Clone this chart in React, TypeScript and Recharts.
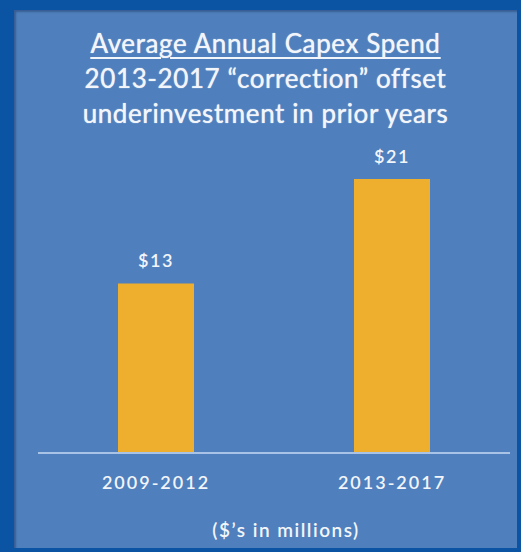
import { BarChart, Bar, XAxis, YAxis, LabelList } from "recharts";

const periods = ["2009-2012", "2013-2017"];
const capexSpend = [13, 21];

const chartData = periods.map((period, i) => ({
  period,
  spend: capexSpend[i],
}));

const TEXT = "#f2f5fa";
const FONT = "Lato, 'Open Sans', sans-serif";

export default function App() {
  return (
    <div
      style={{
        position: "fixed",
        left: 0,
        top: 0,
        width: 521,
        height: 552,
        background: "#0b54a4",
        fontFamily: FONT,
      }}
    >
      <div
        style={{
          position: "absolute",
          left: 14,
          top: 10,
          width: 503,
          height: 538,
          background: "#4f80bd",
          boxShadow: "inset 2px 2px 2px rgba(40,70,120,0.6)",
        }}
      />
      <div
        style={{
          position: "absolute",
          left: 14,
          top: 26,
          width: 503,
          textAlign: "center",
          color: TEXT,
          fontSize: 26,
          lineHeight: "35px",
          letterSpacing: 0.6,
          textShadow: "0 0 1px #f2f5fa",
        }}
      >
        <div style={{ textDecoration: "underline", textUnderlineOffset: 4 }}>
          Average Annual Capex Spend
        </div>
        <div>2013-2017 “correction” offset</div>
        <div>underinvestment in prior years</div>
      </div>
      <div style={{ position: "absolute", left: 0, top: 0 }}>
        <BarChart
          width={521}
          height={552}
          data={chartData}
          margin={{ top: 179, right: 11, bottom: 0, left: 38 }}
          barSize={76}
        >
          <YAxis hide domain={[0, 21]} />
          <XAxis
            dataKey="period"
            height={99}
            tickLine={false}
            axisLine={{ stroke: "#a9c3e6", strokeWidth: 2 }}
            tick={{
              fill: TEXT,
              fontSize: 18,
              fontFamily: FONT,
              fontWeight: 600,
              letterSpacing: 2,
            }}
            tickMargin={17}
            label={{
              value: "($’s in millions)",
              position: "insideBottom",
              offset: 15,
              fill: TEXT,
              fontSize: 19,
              fontFamily: FONT,
              fontWeight: 600,
              letterSpacing: 1.5,
              dx: 12,
            }}
          />
          <Bar dataKey="spend" fill="#eeae2e" isAnimationActive={false}>
            <LabelList
              dataKey="spend"
              position="top"
              offset={16}
              formatter={(v: number) => `$${v}`}
              fill={TEXT}
              fontSize={18}
              fontFamily={FONT}
              fontWeight={600}
              letterSpacing={1.5}
            />
          </Bar>
        </BarChart>
      </div>
    </div>
  );
}
